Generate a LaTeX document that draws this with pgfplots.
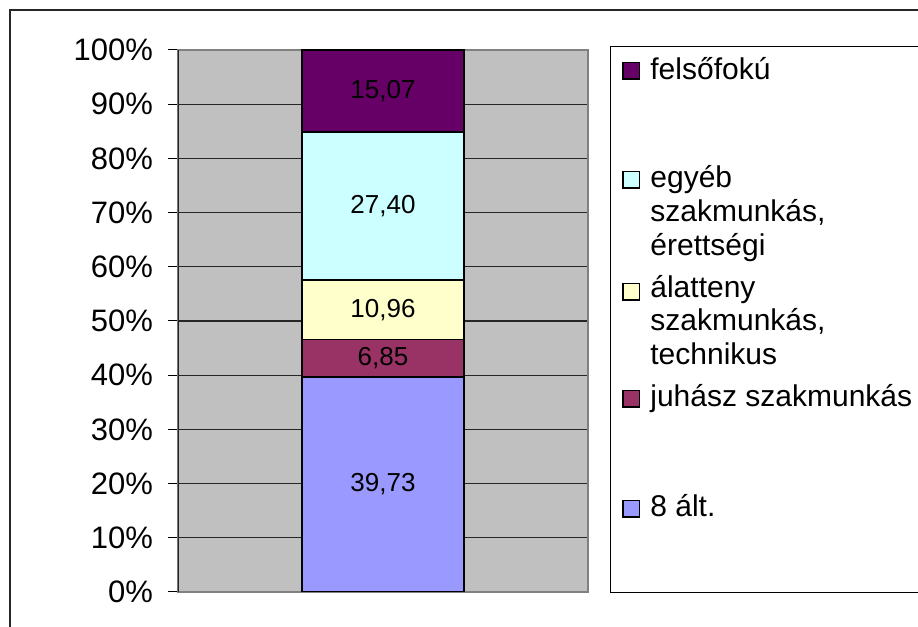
\documentclass[border=0pt]{standalone}
\usepackage{fontspec}
\setmainfont{Liberation Sans}
\usepackage{pgfplots}
\pgfplotsset{compat=1.18}

\definecolor{plotgray}{HTML}{C0C0C0}
\definecolor{c8alt}{HTML}{9999FF}
\definecolor{cjuhasz}{HTML}{993366}
\definecolor{calatteny}{HTML}{FFFFCC}
\definecolor{cegyeb}{HTML}{CCFFFF}
\definecolor{cfelso}{HTML}{660066}

\newcommand{\lfont}{\fontsize{15}{17}\selectfont}

\begin{document}
\begin{tikzpicture}[x=0.5pt,y=0.5pt]
\useasboundingbox (0,0) rectangle (918,627);
\clip (0,0) rectangle (918,627);

% outer chart frame
\draw[line width=1pt, black!85] (10,-20) -- (10,617) -- (940,617);

\begin{axis}[
    at={(89pt,17.5pt)}, anchor=south west,
    scale only axis, width=205pt, height=271pt,
    ybar stacked, bar width=81pt,
    xmin=-1, xmax=1, ymin=0, ymax=100,
    xtick=\empty,
    ytick={0,10,...,100},
    yticklabel={\pgfmathprintnumber{\tick}\%},
    yticklabel style={font=\fontsize{15.5}{17}\selectfont, xshift=-4pt},
    /pgf/number format/assume math mode=true,
    ytick pos=left, tick align=outside, major tick length=5pt,
    tick style={black, line width=0.5pt},
    ymajorgrids, grid style={black!85, line width=0.6pt},
    axis background/.style={fill=plotgray},
    axis line style={draw=gray, line width=1pt},
]
\addplot[fill=c8alt, draw=black, line width=0.9pt] coordinates {(0,39.73)};
\addplot[fill=cjuhasz, draw=black, line width=0.9pt] coordinates {(0,6.85)};
\addplot[fill=calatteny, draw=black, line width=0.9pt] coordinates {(0,10.96)};
\addplot[fill=cegyeb, draw=black, line width=0.9pt] coordinates {(0,27.40)};
\addplot[fill=cfelso, draw=black, line width=0.9pt] coordinates {(0,15.07)};
\draw[black!85, line width=0.8pt] (rel axis cs:0,0) -- (rel axis cs:0,1);
\end{axis}

% value labels at the middle of each segment
\begin{axis}[
    at={(89pt,17.5pt)}, anchor=south west,
    scale only axis, width=205pt, height=271pt,
    xmin=-1, xmax=1, ymin=0, ymax=100,
    hide axis,
]
\addplot[only marks, mark size=0pt, mark options={draw=none,fill=none},
    point meta=explicit,
    nodes near coords={\pgfmathprintnumber[fixed, fixed zerofill, precision=2, use comma, assume math mode=true]{\pgfplotspointmeta}},
    every node near coord/.style={anchor=center, font=\fontsize{13}{15}\selectfont, text=black}]
    table[x=x, y=y, meta=v] {
x y v
0 19.865 39.73
0 43.155 6.85
0 52.06 10.96
0 71.24 27.40
0 92.475 15.07
};
\end{axis}

% legend
\draw[line width=0.5pt, black] (610,34) rectangle (960,580);
\tikzset{lsq/.style={draw=black, line width=0.8pt, minimum size=8.3pt, inner sep=0pt}}
\node[lsq, fill=cfelso] at (631,556) {};
\node[lsq, fill=cegyeb] at (631,447) {};
\node[lsq, fill=calatteny] at (631,335) {};
\node[lsq, fill=cjuhasz] at (631,228) {};
\node[lsq, fill=c8alt] at (631,118) {};
\tikzset{ltx/.style={anchor=base west, inner sep=0pt, font=\lfont}}
\node[ltx] at (650,547) {felsőfokú};
\node[ltx] at (650,439) {egyéb};
\node[ltx] at (650,405) {szakmunkás,};
\node[ltx] at (650,371) {érettségi};
\node[ltx] at (650,329) {álatteny};
\node[ltx] at (650,296) {szakmunkás,};
\node[ltx] at (650,262) {technikus};
\node[ltx] at (650,220) {juhász szakmunkás};
\node[ltx] at (650,110) {8 ált.};
\end{tikzpicture}
\end{document}
